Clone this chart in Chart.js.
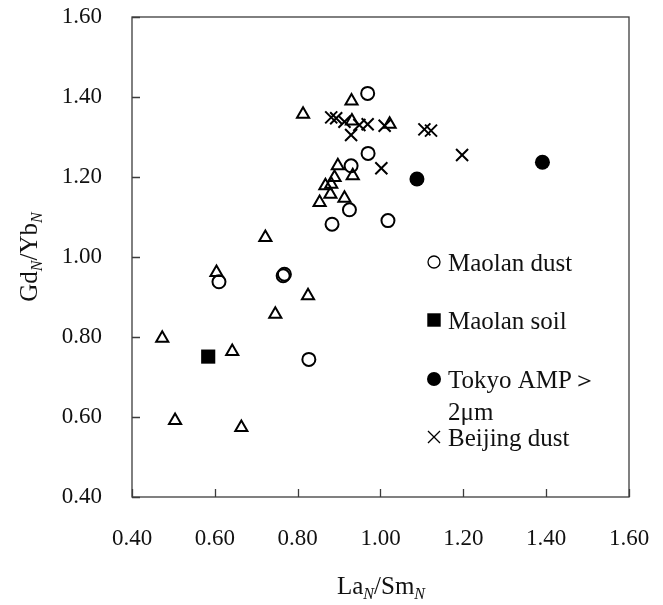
<!DOCTYPE html>
<html lang="en">
<head>
  <meta charset="UTF-8">
  <title>GdN/YbN vs LaN/SmN</title>
  <script src="https://cdnjs.cloudflare.com/ajax/libs/Chart.js/4.4.1/chart.umd.min.js"></script>
  <style>
    body { margin: 0; background: #fff; }
    #wrap { width: 663px; height: 605px; }
  </style>
</head>
<body>
  <div id="wrap"><canvas id="chart" width="663" height="605"></canvas></div>
  <script>
    // unlabelled triangles
    const triX = [0.813, 0.930, 0.931, 1.022, 0.897, 0.933, 0.889, 0.881, 0.867, 0.879, 0.853, 0.913, 0.722, 0.604, 0.825, 0.746, 0.473, 0.642, 0.504, 0.664];
    const triY = [1.357, 1.390, 1.340, 1.332, 1.228, 1.203, 1.199, 1.182, 1.178, 1.157, 1.136, 1.147, 1.049, 0.961, 0.903, 0.857, 0.797, 0.764, 0.591, 0.574];
    // Maolan dust
    const dustX = [0.969, 0.970, 0.929, 0.925, 0.883, 1.018, 0.610, 0.765, 0.768, 0.827];
    const dustY = [1.409, 1.259, 1.228, 1.118, 1.082, 1.091, 0.938, 0.953, 0.957, 0.744];
    // Maolan soil
    const soilX = [0.584];
    const soilY = [0.751];
    // Tokyo AMP > 2um
    const tokyoX = [1.088, 1.391];
    const tokyoY = [1.195, 1.237];
    // Beijing dust
    const beijingX = [0.881, 0.893, 0.913, 0.929, 0.949, 0.969, 1.010, 1.106, 1.122, 1.197, 1.002];
    const beijingY = [1.349, 1.347, 1.338, 1.305, 1.330, 1.332, 1.328, 1.319, 1.316, 1.255, 1.222];

    const legendNames = ['Maolan dust', 'Maolan soil', 'Tokyo AMP＞', 'Beijing dust'];
    const tickValues = [0.4, 0.6, 0.8, 1.0, 1.2, 1.4, 1.6];

    const FONT = '"Liberation Serif", "Times New Roman", serif';
    const AXIS = '#3c3c3c';

    function pts(xs, ys) {
      return xs.map((x, i) => ({ x: x, y: ys[i] }));
    }

    // frame + inward ticks + axis titles + legend
    const decor = {
      id: 'decor',
      afterDraw(chart) {
        const ctx = chart.ctx;
        const a = chart.chartArea;
        const sx = chart.scales.x, sy = chart.scales.y;
        ctx.save();
        ctx.strokeStyle = AXIS;
        ctx.lineWidth = 1.3;
        ctx.strokeRect(a.left, a.top, a.right - a.left, a.bottom - a.top);
        ctx.beginPath();
        tickValues.forEach(v => {
          const px = Math.round(sx.getPixelForValue(v)) + 0.5;
          ctx.moveTo(px, a.bottom); ctx.lineTo(px, a.bottom - 8);
          const py = Math.round(sy.getPixelForValue(v)) + 0.5;
          ctx.moveTo(a.left, py); ctx.lineTo(a.left + 8, py);
        });
        ctx.stroke();

        // axis titles with italic subscripts
        ctx.fillStyle = '#111';
        ctx.textBaseline = 'alphabetic';
        function titleParts(parts) {
          return parts.map(p => ({ t: p[0], f: p[1] ? 'italic 16px ' + FONT : '25px ' + FONT, dy: p[1] ? 5 : 0 }));
        }
        function drawParts(parts, cx, base) {
          let w = 0;
          parts.forEach(p => { ctx.font = p.f; w += ctx.measureText(p.t).width; });
          let x = cx - w / 2;
          parts.forEach(p => { ctx.font = p.f; ctx.fillText(p.t, x, base + p.dy); x += ctx.measureText(p.t).width; });
        }
        drawParts(titleParts([['La', 0], ['N', 1], ['/Sm', 0], ['N', 1]]), 381, 594);
        ctx.save();
        ctx.translate(37, 257);
        ctx.rotate(-Math.PI / 2);
        drawParts(titleParts([['Gd', 0], ['N', 1], ['/Yb', 0], ['N', 1]]), 0, 0);
        ctx.restore();

        // legend
        const rows = [
          { y: 262, style: 'circle', r: 6, fill: false, bw: 2 },
          { y: 320, style: 'rect', r: 9.5, fill: true, bw: 0 },
          { y: 379, style: 'circle', r: 7, fill: true, bw: 0 },
          { y: 437, style: 'crossRot', r: 8.5, fill: false, bw: 2 }
        ];
        ctx.font = '25px ' + FONT;
        rows.forEach((r, i) => {
          ctx.fillStyle = r.fill ? '#000' : '#fff';
          ctx.strokeStyle = '#000';
          Chart.helpers.drawPoint(ctx, { pointStyle: r.style, radius: r.r, rotation: 0, borderWidth: r.bw }, 434, r.y);
          ctx.fillStyle = '#111';
          ctx.fillText(legendNames[i], 448, r.y + 9);
        });
        ctx.fillText('2μm', 448, 420);
        ctx.restore();
      }
    };

    const tickFont = { family: FONT, size: 23 };

    new Chart(document.getElementById('chart').getContext('2d'), {
      type: 'scatter',
      data: {
        datasets: [
          { label: 'Beijing dust', data: pts(beijingX, beijingY), pointStyle: 'crossRot', pointRadius: 8.5, borderWidth: 2, borderColor: '#000', backgroundColor: '#000' },
          { label: 'Tokyo AMP', data: pts(tokyoX, tokyoY), pointStyle: 'circle', pointRadius: 7.5, borderWidth: 0, borderColor: '#000', backgroundColor: '#000' },
          { label: 'Maolan soil', data: pts(soilX, soilY), pointStyle: 'rect', pointRadius: 10, borderWidth: 0, borderColor: '#000', backgroundColor: '#000' },
          { label: 'Maolan dust', data: pts(dustX, dustY), pointStyle: 'circle', pointRadius: 6.5, borderWidth: 2, borderColor: '#000', backgroundColor: 'rgba(0,0,0,0)' },
          { label: 'other', data: pts(triX, triY), pointStyle: 'triangle', pointRadius: 7, borderWidth: 2, borderColor: '#000', backgroundColor: 'rgba(0,0,0,0)' }
        ]
      },
      options: {
        responsive: false,
        animation: false,
        layout: { padding: { top: 17, right: 34, left: 0, bottom: 0 } },
        plugins: { legend: { display: false }, tooltip: { enabled: false } },
        scales: {
          x: {
            type: 'linear', min: 0.4, max: 1.6,
            afterFit: s => { s.height = 108; s.paddingLeft = 0; s.paddingRight = 0; },
            afterBuildTicks: s => { s.ticks = tickValues.map(v => ({ value: v })); },
            grid: { display: false, drawTicks: false },
            border: { display: false },
            ticks: { font: tickFont, color: '#111', padding: 28, maxRotation: 0, callback: v => v.toFixed(2) }
          },
          y: {
            type: 'linear', min: 0.4, max: 1.6,
            afterFit: s => { s.width = 132; s.paddingTop = 0; s.paddingBottom = 0; },
            afterBuildTicks: s => { s.ticks = tickValues.map(v => ({ value: v })); },
            grid: { display: false, drawTicks: false },
            border: { display: false },
            ticks: { font: tickFont, color: '#111', padding: 30, callback: v => v.toFixed(2) }
          }
        }
      },
      plugins: [decor]
    });
  </script>
</body>
</html>
